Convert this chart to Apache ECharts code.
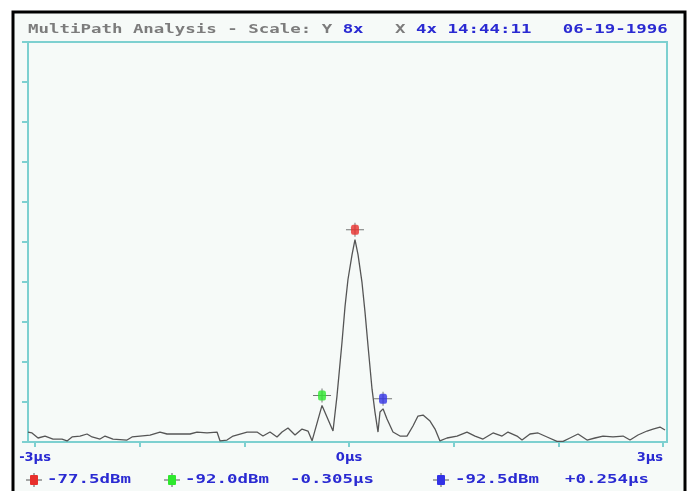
<!DOCTYPE html>
<html>
<head>
<meta charset="utf-8">
<script src="https://cdn.jsdelivr.net/npm/echarts@6/dist/echarts.min.js"></script>
<style>
  html, body { margin: 0; padding: 0; background: #fff; }
  #chart { width: 691px; height: 491px; }
</style>
</head>
<body>
<div id="chart"></div>
<script>
// trace: time in microseconds, level in dBm
var timeUs = [
  -3.067, -3.029, -2.971, -2.904, -2.828, -2.742, -2.694, -2.646, -2.570, -2.503,
  -2.455, -2.379, -2.331, -2.255, -2.121, -2.073, -1.997, -1.901, -1.806, -1.739,
  -1.615, -1.519, -1.452, -1.357, -1.261, -1.232, -1.166, -1.108, -0.974, -0.879,
  -0.822, -0.755, -0.688, -0.640, -0.583, -0.516, -0.449, -0.392, -0.353, -0.258,
  -0.153, -0.115, -0.067, -0.038, -0.010, 0.029, 0.057, 0.086, 0.124, 0.153,
  0.182, 0.220, 0.248, 0.277, 0.296, 0.325, 0.363, 0.420, 0.487, 0.554,
  0.611, 0.659, 0.707, 0.774, 0.822, 0.869, 0.936, 1.032, 1.127, 1.204,
  1.280, 1.376, 1.462, 1.519, 1.605, 1.653, 1.729, 1.806, 1.892, 1.987,
  2.045, 2.111, 2.188, 2.274, 2.350, 2.427, 2.522, 2.618, 2.685, 2.761,
  2.847, 2.904, 2.971, 3.019
];
var levelDbm = [
  -94.33, -94.41, -94.85, -94.68, -94.94, -94.94, -95.11, -94.76, -94.68, -94.50,
  -94.76, -94.94, -94.68, -94.94, -95.03, -94.76, -94.68, -94.59, -94.33, -94.50,
  -94.50, -94.50, -94.33, -94.41, -94.33, -95.11, -95.03, -94.68, -94.33, -94.33,
  -94.68, -94.33, -94.76, -94.33, -93.98, -94.59, -94.07, -94.24, -95.10, -92.00,
  -94.24, -91.19, -86.47, -83.33, -80.98, -78.80, -77.50, -78.80, -81.24, -83.86,
  -86.82, -90.58, -92.58, -94.33, -92.58, -92.30, -93.19, -94.33, -94.68, -94.68,
  -93.80, -92.93, -92.84, -93.37, -94.07, -95.11, -94.85, -94.68, -94.33, -94.68,
  -94.94, -94.41, -94.68, -94.33, -94.68, -95.03, -94.50, -94.41, -94.76, -95.15,
  -95.15, -94.85, -94.50, -95.03, -94.85, -94.68, -94.76, -94.68, -95.03, -94.59,
  -94.24, -94.07, -93.89, -94.15
];

// markers: red (main path), green (early echo), blue (late echo)
var markerTimes = [0.057, -0.258, 0.325];
var markerLevels = [-77.5, -92.0, -92.3];

var xTickValues = [-3, -2, -1, 0, 1, 2, 3];
var xLabelValues = [-3, 0, 3];
var yTickValues = [-95.2, -91.7, -88.2, -84.7, -81.2, -77.7, -74.2, -70.7, -67.2, -63.7, -60.2];

var titleGray1 = 'MultiPath Analysis - Scale: Y ';
var titleBlue1 = '8x';
var titleGray2 = '   X ';
var titleBlue2 = '4x 14:44:11   06-19-1996';

var legendLevels = ['-77.5dBm', '-92.0dBm', '-92.5dBm'];
var legendTimes = ['-0.305\u03bcs', '+0.254\u03bcs'];

var markerColors = ['#e8302c', '#2ee82e', '#3232e6'];
var blue = '#2a2ad2';
var cyan = '#7dd0d0';
var monoFont = '"DejaVu Sans Mono", monospace';

var chart = echarts.init(document.getElementById('chart'), null, { renderer: 'canvas' });

// the little square-with-crosshair marker
var crossPath = 'path://M0,6.5H18V7.5H0Z M8.5,0H9.5V14H8.5Z';

function markerIcon(cx, cy, color) {
  return {
    type: 'group',
    x: cx,
    y: cy,
    z: 50,
    children: [
      { type: 'rect', shape: { x: -8, y: -0.5, width: 16, height: 1 }, style: { fill: '#555' } },
      { type: 'rect', shape: { x: -0.5, y: -7, width: 1, height: 14 }, style: { fill: '#555' } },
      { type: 'rect', shape: { x: -4, y: -5, width: 8, height: 10, r: 1 }, style: { fill: color } }
    ]
  };
}

function monoText(x, y, text, color) {
  return {
    type: 'text',
    x: x,
    y: y,
    scaleX: 1.34,
    z: 50,
    style: { text: text, fill: color, font: 'bold 13px ' + monoFont, textVerticalAlign: 'middle' }
  };
}

var graphics = [
  // panel background and frame
  { type: 'rect', z: -10, silent: true, shape: { x: 13, y: 12, width: 672, height: 500 }, style: { fill: '#f6faf8' } },
  { type: 'rect', z: 100, silent: true, shape: { x: 13, y: 12, width: 672, height: 500 }, style: { fill: 'none', stroke: '#000', lineWidth: 3 } },
  {
    type: 'text',
    x: 28,
    y: 30,
    scaleX: 1.34,
    z: 50,
    style: {
      text: '{g|' + titleGray1 + '}{b|' + titleBlue1 + '}{g|' + titleGray2 + '}{b|' + titleBlue2 + '}',
      font: 'bold 13px ' + monoFont,
      textVerticalAlign: 'middle',
      rich: {
        g: { fill: '#7c7c7c', font: 'bold 13px ' + monoFont },
        b: { fill: blue, font: 'bold 13px ' + monoFont }
      }
    }
  },
  markerIcon(34, 480, markerColors[0]),
  monoText(47, 480, legendLevels[0], blue),
  markerIcon(172, 480, markerColors[1]),
  monoText(185, 480, legendLevels[1], blue),
  monoText(290, 480, legendTimes[0], blue),
  markerIcon(441, 480, markerColors[2]),
  monoText(455, 480, legendLevels[2], blue),
  monoText(565, 480, legendTimes[1], blue)
];

var traceData = timeUs.map(function (t, i) { return [t, levelDbm[i]]; });
var markerData = markerTimes.map(function (t, i) {
  return { value: [t, markerLevels[i]], itemStyle: { color: markerColors[i] } };
});

var option = {
  animation: false,
  backgroundColor: '#fff',
  grid: {
    left: 28,
    top: 42,
    width: 639,
    height: 400,
    show: true,
    borderColor: cyan,
    borderWidth: 2,
    backgroundColor: 'transparent'
  },
  xAxis: {
    type: 'value',
    min: -3.067,
    max: 3.038,
    axisLine: { show: false, onZero: false },
    splitLine: { show: false },
    axisTick: {
      show: true,
      customValues: xTickValues,
      length: 5,
      lineStyle: { color: cyan, width: 2 }
    },
    axisLabel: {
      customValues: xLabelValues,
      formatter: function (v) { return v + '\u03bcs'; },
      margin: 9,
      color: blue,
      fontFamily: 'DejaVu Sans',
      fontWeight: 'bold',
      fontSize: 13,
      alignMaxLabel: 'right'
    }
  },
  yAxis: {
    type: 'value',
    min: -95.2,
    max: -60.2,
    position: 'left',
    axisLine: { show: false, onZero: false },
    splitLine: { show: false },
    axisLabel: { show: false },
    axisTick: {
      show: true,
      customValues: yTickValues,
      length: 6,
      lineStyle: { color: cyan, width: 2 }
    }
  },
  graphic: graphics,
  series: [
    {
      type: 'line',
      data: traceData,
      symbol: 'none',
      lineStyle: { color: '#555', width: 1.3 },
      z: 3
    },
    {
      type: 'scatter',
      data: markerTimes.map(function (t, i) { return [t, markerLevels[i]]; }),
      symbol: crossPath,
      symbolSize: [18, 14],
      symbolOffset: [0, -10],
      itemStyle: { color: '#555' },
      z: 4
    },
    {
      type: 'scatter',
      data: markerData,
      symbol: 'roundRect',
      symbolSize: [8, 10],
      symbolOffset: [0, -10],
      z: 5
    }
  ]
};

chart.setOption(option);
window.addEventListener('resize', chart.resize);
</script>
</body>
</html>
